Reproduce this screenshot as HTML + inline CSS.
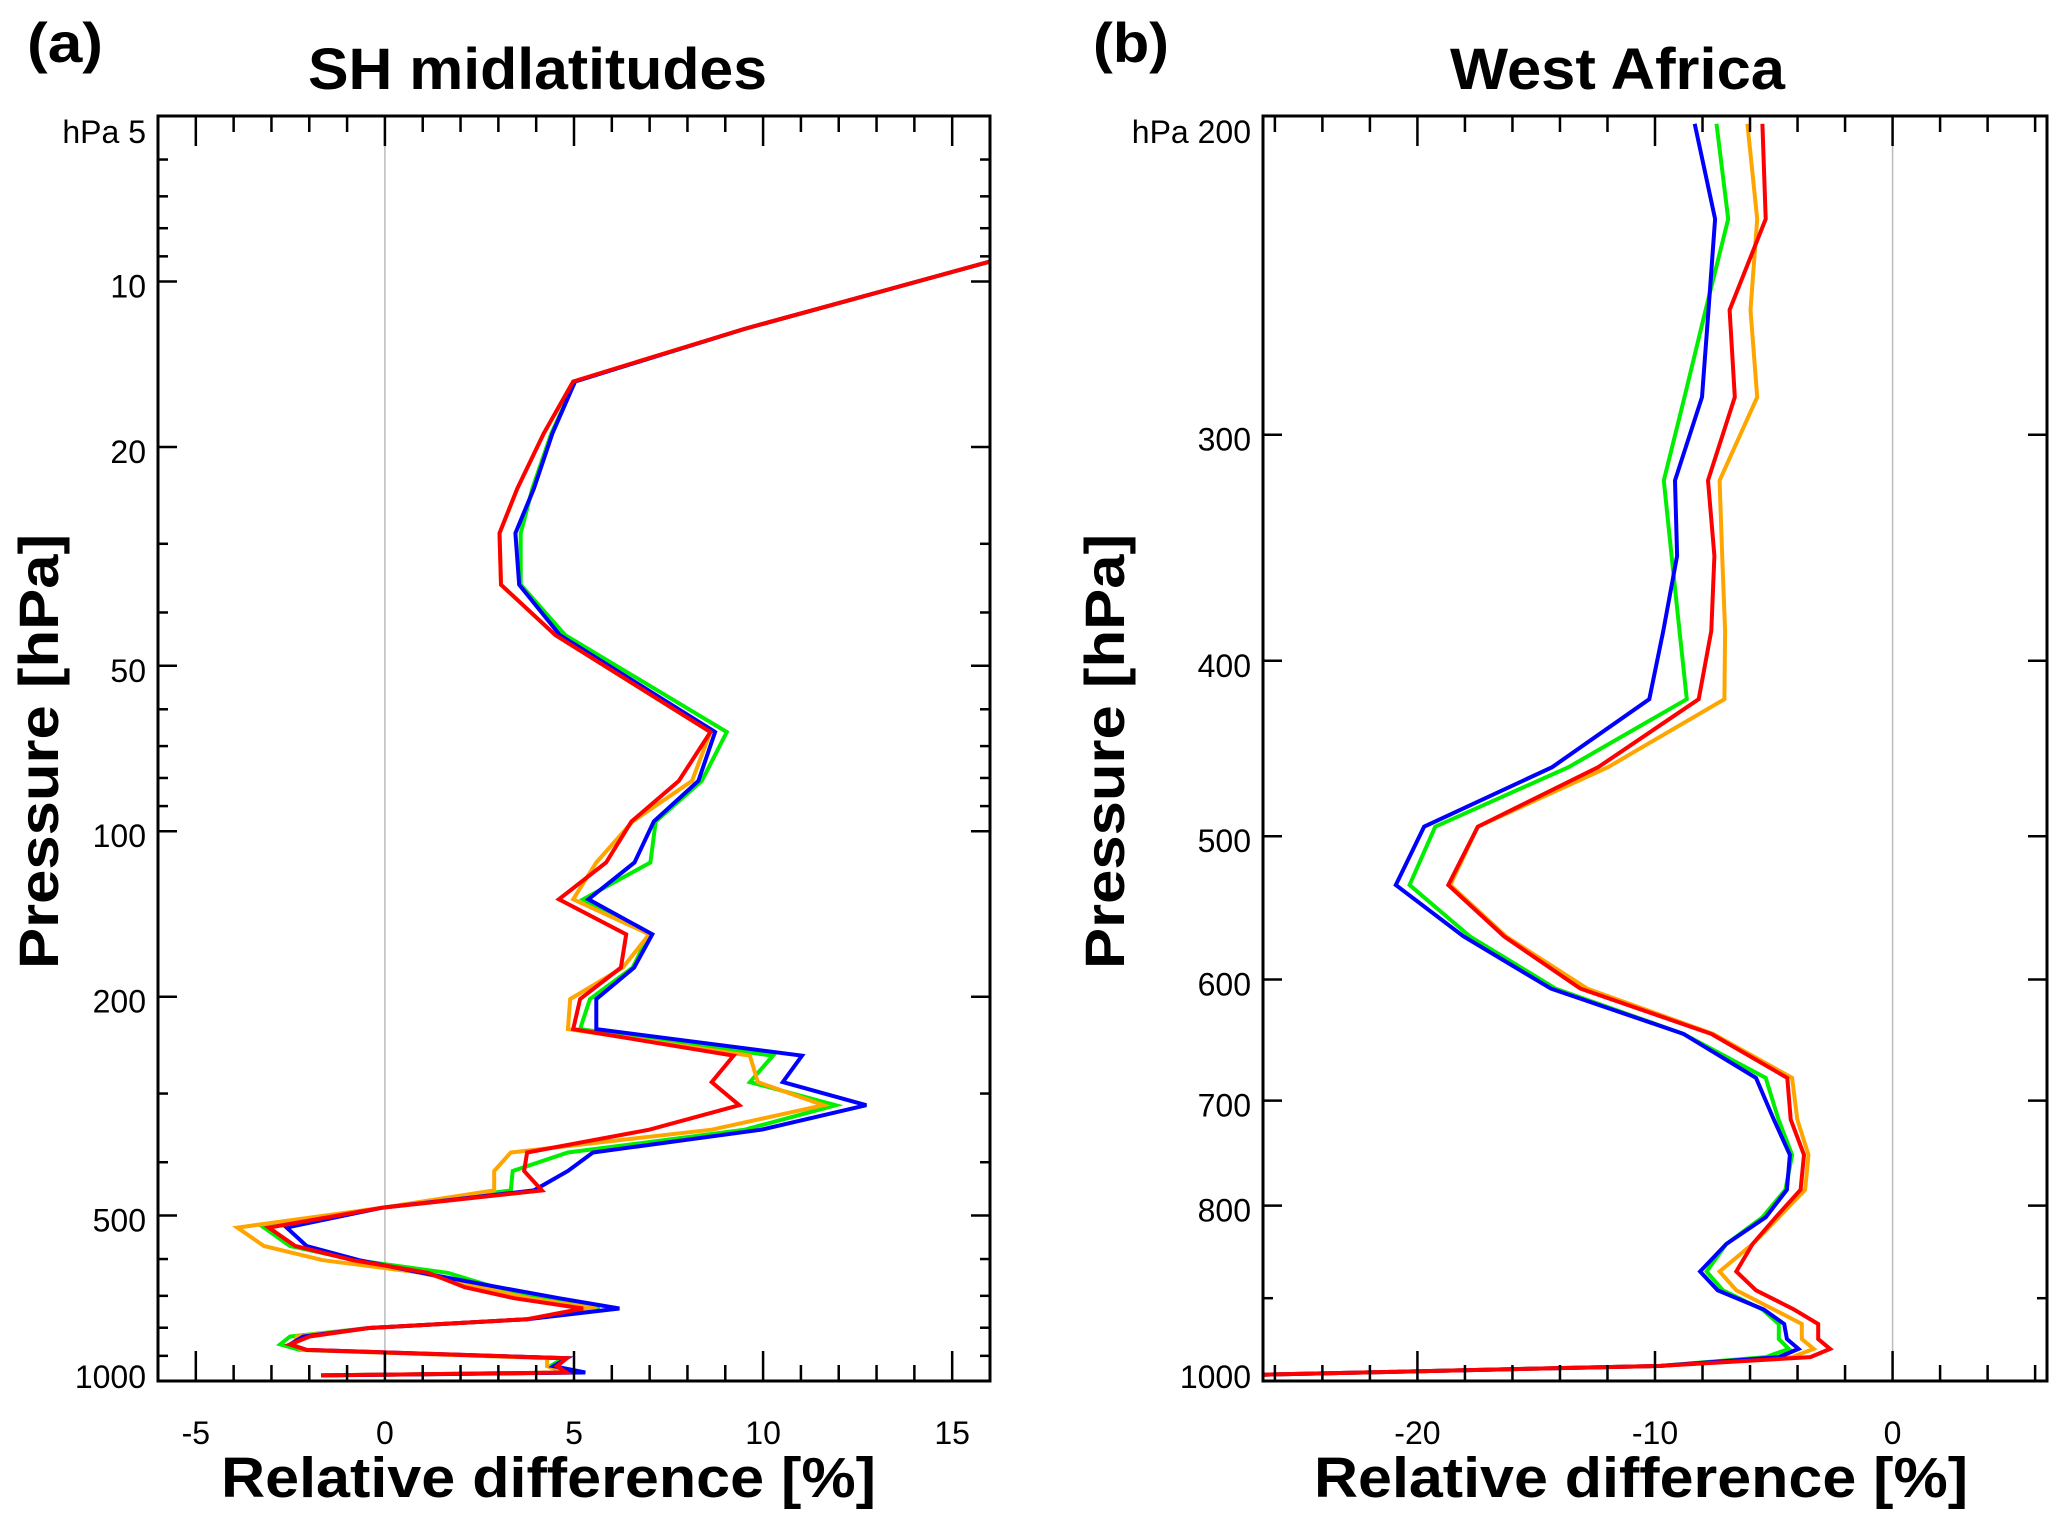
<!DOCTYPE html>
<html><head><meta charset="utf-8"><style>
html,body{margin:0;padding:0;background:#fff;}
svg{display:block;}
text{font-family:"Liberation Sans",sans-serif;fill:#000;}
</style></head><body>
<svg id="chart" width="2067" height="1532" xmlns="http://www.w3.org/2000/svg">
<defs>
<clipPath id="clipA"><rect x="158" y="116" width="832" height="1265"/></clipPath>
<clipPath id="clipB"><rect x="1263" y="116" width="784" height="1265"/></clipPath>
</defs>
<g id="panelA"></g>
<g id="panelB"></g>
</svg>
<script>
// ---- Panel A data (SH midlatitudes) ----
const levelsA = [9.2,12.2,15.2,18.9,23.8,28.7,35.6,44,66,81,96,114,133,154,177,202,229,256,286,315,349,384,415,450,484,526,568,603,636,675,707,738,772,801,830,858,878,909,940,965,977];
const redA    = [16,9.5,4.98,4.2,3.5,3.03,3.07,4.51,8.61,7.77,6.52,5.85,4.6,6.38,6.24,5.16,4.98,9.22,8.64,9.37,6.99,3.76,3.68,4.15,-0.07,-3.07,-2.37,-0.85,1.15,2.11,3.41,5.24,3.76,-0.42,-1.99,-2.51,-2.07,4.81,4.55,4.8,-1.69];
const blueA   = [16,9.5,5.03,4.43,3.94,3.45,3.55,4.63,8.73,8.29,7.11,6.6,5.38,7.07,6.59,5.59,5.59,11.03,10.52,12.73,9.95,5.5,4.84,3.94,-0.07,-2.6,-2.07,-0.68,0.98,3.0,4.6,6.2,3.76,-0.42,-2.16,-2.51,-2.07,4.81,4.46,5.3,-1.69];
const greenA  = [16,9.5,5.03,4.4,3.9,3.59,3.59,4.77,9.04,8.38,7.16,7.02,5.24,6.99,6.55,5.42,5.16,10.26,9.65,11.92,9.51,4.84,3.38,3.33,-0.07,-3.2,-2.51,-0.77,1.67,2.9,4.2,5.68,3.76,-0.42,-2.51,-2.77,-2.25,4.72,4.37,4.8,-1.69];
const orangeA = [16,9.5,4.98,4.2,3.5,3.03,3.07,4.51,8.61,8.12,6.55,5.59,4.98,6.99,6.29,4.9,4.84,9.65,9.86,11.6,8.64,3.33,2.89,2.89,-0.07,-3.9,-3.2,-1.64,0.98,2.5,3.8,5.59,3.76,-0.42,-2.33,-2.4,-2.2,4.29,4.29,4.8,-1.69];
const xTicksA = [-5,0,5,10,15];
const yMajorA = [10,20,50,100,200,500];
const yMinorA = [6,7,8,9,30,40,60,70,80,90,300,400,600,700,800,900];
const yLabelsA = ["10","20","50","100","200","500"];

// ---- Panel B data (West Africa) ----
const levelsB = [202,228,256,286,318,350,385,420,458,494,532,568,607,643,680,717,750,784,812,840,870,891,913,930,948,960,970,981,992];
const blueB   = [-8.33,-7.47,-7.75,-8.02,-9.16,-9.07,-9.65,-10.24,-14.33,-19.72,-20.91,-18.06,-14.38,-8.8,-5.75,-5.0,-4.32,-4.45,-5.34,-7.0,-8.1,-7.36,-5.42,-4.56,-4.45,-3.96,-4.79,-9.76,-26.5];
const greenB  = [-7.41,-6.92,-7.87,-8.76,-9.63,-9.3,-8.97,-8.66,-13.64,-19.25,-20.33,-17.79,-14.19,-8.8,-5.34,-4.8,-4.23,-4.51,-5.48,-7.0,-7.83,-7.14,-5.48,-4.79,-4.79,-4.37,-5.34,-9.76,-26.5];
const orangeB = [-6.11,-5.7,-5.98,-5.7,-7.28,-7.17,-7.05,-7.08,-11.98,-17.46,-18.62,-16.27,-12.86,-7.55,-4.23,-4.01,-3.54,-3.68,-4.79,-5.89,-7.28,-6.58,-5.0,-3.82,-3.82,-3.32,-4.23,-9.76,-26.5];
const redB    = [-5.48,-5.34,-6.86,-6.64,-7.77,-7.5,-7.63,-8.16,-12.39,-17.46,-18.7,-16.35,-13.14,-7.63,-4.43,-4.29,-3.73,-3.87,-4.92,-5.89,-6.58,-5.75,-4.15,-3.13,-3.13,-2.63,-3.46,-9.76,-26.5];
const xTicksB = [-20,-10,0];
const yMajorB = [300,400,500,600,700,800];
const yMinorB = [900];
const yLabelsB = ["300","400","500","600","700","800"];

const NS = "http://www.w3.org/2000/svg";
function mk(parent, tag, attrs){ const e=document.createElementNS(NS,tag); for(const k in attrs) e.setAttribute(k,attrs[k]); parent.appendChild(e); return e; }

function drawPanel(g, cfg){
  const L=cfg.left,R=cfg.right,T=116,B=1381;
  const xs=v=>L+(v-cfg.xmin)/(cfg.xmax-cfg.xmin)*(R-L);
  const ys=p=>T+Math.log10(p/cfg.pmin)/Math.log10(cfg.pmax/cfg.pmin)*(B-T);
  const z=mk(g,'line',{x1:xs(0),x2:xs(0),y1:T,y2:B,stroke:'#bbbbbb','stroke-width':1.5});
  
  
  const sg=mk(g,'g',{'clip-path':cfg.clip});
  
  
  cfg.series.forEach(s=>{
    const pts=s.vals.map((v,i)=>xs(v).toFixed(1)+','+ys(cfg.levels[i]).toFixed(1)).join(' ');
    const pl=mk(sg,'polyline',{points:pts,fill:'none',stroke:s.color,'stroke-width':4,'stroke-linejoin':'miter'});
    
    
  });
  for(let v=cfg.tmin; v<=cfg.xmax+1e-9; v+=cfg.tstep){
    const major=cfg.xTicks.includes(v);
    const len=major?30:16;
    const x=xs(v);
    const t1=mk(g,'line',{x1:x,x2:x,y1:T,y2:T+len,stroke:'#000','stroke-width':2.5});
    
    
    const t2=mk(g,'line',{x1:x,x2:x,y1:B,y2:B-len,stroke:'#000','stroke-width':2.5});
    
    
  }
  cfg.xTicks.forEach(v=>{
    const t=mk(g,'text',{x:xs(v),y:1444,'font-size':32,'text-anchor':'middle'});
    t.textContent=String(v);
    
    
  });
  cfg.yMajor.forEach((p,i)=>{
    const y=ys(p);
    const a=mk(g,'line',{x1:L,x2:L+19,y1:y,y2:y,stroke:'#000','stroke-width':2.5});
    
    
    const b=mk(g,'line',{x1:R,x2:R-19,y1:y,y2:y,stroke:'#000','stroke-width':2.5});
    
    
    const t=mk(g,'text',{x:L-12,y:y+16,'font-size':32,'text-anchor':'end'});
    t.textContent=cfg.yLabels[i];
    
    
  });
  cfg.yMinor.forEach(p=>{
    const y=ys(p);
    const a=mk(g,'line',{x1:L,x2:L+10,y1:y,y2:y,stroke:'#000','stroke-width':2.5});
    
    
    const b=mk(g,'line',{x1:R,x2:R-10,y1:y,y2:y,stroke:'#000','stroke-width':2.5});
    
    
  });
  const tt=mk(g,'text',{x:L-12,y:143,'font-size':32,'text-anchor':'end'});
  tt.textContent=cfg.topLabel;
  
  
  const bt=mk(g,'text',{x:L-12,y:1388,'font-size':32,'text-anchor':'end'});
  bt.textContent='1000';
  
  
  const f=mk(g,'rect',{x:L,y:T,width:R-L,height:B-T,fill:'none',stroke:'#000','stroke-width':3});
  
  
  const ti=mk(g,'text',{x:cfg.titleX,y:89,'font-size':58,'font-weight':'bold',textLength:cfg.titleW,lengthAdjust:'spacingAndGlyphs'});
  ti.textContent=cfg.title;
  
  
  const pl=mk(g,'text',{x:cfg.tagX,y:62,'font-size':56,'font-weight':'bold',textLength:76,lengthAdjust:'spacingAndGlyphs'});
  pl.textContent=cfg.tag;
  
  
  const xl=mk(g,'text',{x:cfg.xlabX,y:1497,'font-size':57,'font-weight':'bold',textLength:cfg.xlabW,lengthAdjust:'spacingAndGlyphs'});
  xl.textContent='Relative difference [%]';
  
  
  const yl=mk(g,'text',{x:0,y:0,'font-size':56,'font-weight':'bold',textLength:435,lengthAdjust:'spacingAndGlyphs',transform:`translate(${cfg.ylabX},969) rotate(-90)`});
  yl.textContent='Pressure [hPa]';
  
  
}

drawPanel(document.getElementById('panelA'),{
  left:158,right:990,xmin:-6,xmax:16,pmin:5,pmax:1000,tmin:-6,tstep:1,clip:'url(#clipA)',
  levels:levelsA,xTicks:xTicksA,yMajor:yMajorA,yMinor:yMinorA,yLabels:yLabelsA,topLabel:'hPa 5',
  series:[{name:'green-line',color:'#00ee00',vals:greenA},{name:'orange-line',color:'#ffa500',vals:orangeA},{name:'blue-line',color:'#0000ff',vals:blueA},{name:'red-line',color:'#ff0000',vals:redA}],
  title:'SH midlatitudes',titleX:308,titleW:459,tag:'(a)',tagX:27,xlabX:221,xlabW:655,ylabX:58
});
drawPanel(document.getElementById('panelB'),{
  left:1263,right:2047,xmin:-26.5,xmax:6.5,pmin:200,pmax:1000,tmin:-26,tstep:2,clip:'url(#clipB)',
  levels:levelsB,xTicks:xTicksB,yMajor:yMajorB,yMinor:yMinorB,yLabels:yLabelsB,topLabel:'hPa 200',
  series:[{name:'green-line',color:'#00ee00',vals:greenB},{name:'orange-line',color:'#ffa500',vals:orangeB},{name:'blue-line',color:'#0000ff',vals:blueB},{name:'red-line',color:'#ff0000',vals:redB}],
  title:'West Africa',titleX:1450,titleW:335,tag:'(b)',tagX:1093,xlabX:1314,xlabW:654,ylabX:1124
});
</script>
</body></html>
